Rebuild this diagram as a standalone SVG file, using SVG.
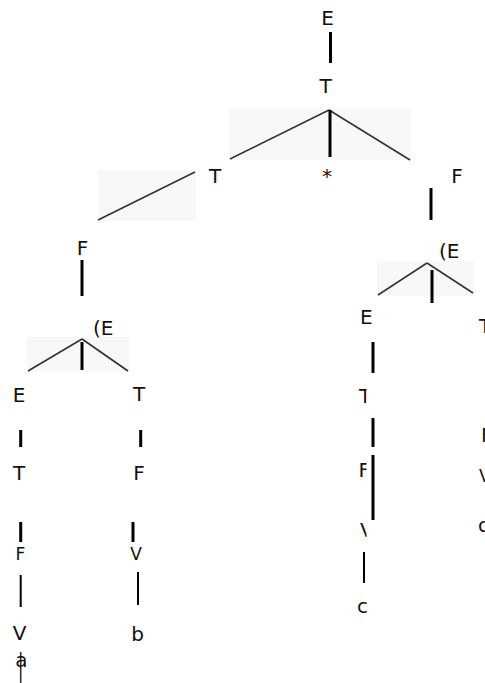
<svg xmlns="http://www.w3.org/2000/svg" width="485" height="683" viewBox="0 0 485 683">
<style>
text{font-family:"DejaVu Sans","Liberation Sans",sans-serif;font-size:20px;fill:#111}
text.s{font-size:17px}
.m{text-anchor:middle}
.v{stroke:#000;stroke-width:3;fill:none}
.t{stroke:#000;stroke-width:2;fill:none}
.d{stroke:#333;stroke-width:1.6;fill:none}
.bg{fill:#f8f8f8}
</style>
<defs>
<clipPath id="cut"><rect x="0" y="380" width="366.5" height="170"/></clipPath>
</defs>
<g id="noise">
<rect class="bg" x="229" y="108" width="182" height="52"/>
<rect class="bg" x="98" y="170" width="98" height="51"/>
<rect class="bg" x="377" y="261" width="97" height="35"/>
<rect class="bg" x="27" y="337" width="102" height="35"/>
</g>
<g id="connectors">
<line class="v" x1="330.5" y1="32" x2="330.5" y2="63"/>
<line class="d" x1="329" y1="110" x2="230" y2="159"/>
<line class="d" x1="329" y1="110" x2="410" y2="160"/>
<line class="v" x1="330" y1="110" x2="330" y2="157"/>
<line class="d" x1="195" y1="172" x2="98" y2="220"/>
<line class="v" x1="431" y1="188" x2="431" y2="220"/>
<line class="d" x1="427" y1="263" x2="378" y2="295"/>
<line class="d" x1="427" y1="263" x2="473" y2="293"/>
<line class="v" x1="432" y1="270" x2="432" y2="303"/>
<line class="v" x1="373" y1="342" x2="373" y2="373"/>
<line class="v" x1="373" y1="418" x2="373" y2="447"/>
<line class="v" x1="373" y1="455" x2="373" y2="520"/>
<line class="t" x1="364" y1="552" x2="364" y2="583"/>
<line class="v" x1="82" y1="260" x2="82" y2="296"/>
<line class="d" x1="82" y1="339" x2="28" y2="371"/>
<line class="d" x1="82" y1="339" x2="128" y2="371"/>
<line class="v" x1="82" y1="342" x2="82" y2="370"/>
<line class="v" x1="20.7" y1="430" x2="20.7" y2="447"/>
<line class="v" x1="140.7" y1="430" x2="140.7" y2="447"/>
<line class="v" x1="20.7" y1="522" x2="20.7" y2="542"/>
<line class="v" x1="133" y1="522" x2="133" y2="542"/>
<line class="t" x1="20.7" y1="575" x2="20.7" y2="607"/>
<line class="t" x1="138" y1="572" x2="138" y2="605"/>
<line class="d" x1="20.7" y1="652" x2="20.7" y2="683"/>
</g>
<g id="n-E0"><text class="m" x="327.5" y="25">E</text></g>
<g id="n-T0"><text class="m" x="325.5" y="93">T</text></g>
<g id="n-T1"><text class="m" x="215" y="183">T</text></g>
<g id="n-star"><text class="m" x="327" y="183">*</text></g>
<g id="n-F1"><text class="m" x="457" y="183">F</text></g>
<g id="n-PE1"><text x="439" y="258">(E</text></g>
<g id="n-E2"><text x="360" y="324">E</text></g>
<g id="n-T2"><text x="479" y="333">T</text></g>
<g id="n-T3" clip-path="url(#cut)"><text x="359" y="403">T</text></g>
<g id="n-F3" clip-path="url(#cut)"><text x="358.5" y="477">F</text></g>
<g id="n-V3" clip-path="url(#cut)"><text x="360" y="537">V</text></g>
<g id="n-c"><text class="m" x="362.5" y="613">c</text></g>
<g id="n-F4"><text x="481" y="442">F</text></g>
<g id="n-V4"><text class="s" x="479" y="482">V</text></g>
<g id="n-d"><text x="478" y="532">d</text></g>
<g id="n-F2"><text class="m" x="82.5" y="255">F</text></g>
<g id="n-PE2"><text x="93" y="335">(E</text></g>
<g id="n-E5"><text class="m" x="19" y="402">E</text></g>
<g id="n-T5"><text class="m" x="139" y="401">T</text></g>
<g id="n-T6"><text class="m" x="19" y="480">T</text></g>
<g id="n-F6"><text class="m" x="139" y="480">F</text></g>
<g id="n-F7"><text class="s m" x="20.5" y="560">F</text></g>
<g id="n-V7"><text class="s m" x="136" y="560">V</text></g>
<g id="n-V8"><text class="m" x="19.5" y="640">V</text></g>
<g id="n-b"><text class="m" x="137.5" y="641">b</text></g>
<g id="n-a"><text class="m" x="21.5" y="667">a</text></g>
</svg>
